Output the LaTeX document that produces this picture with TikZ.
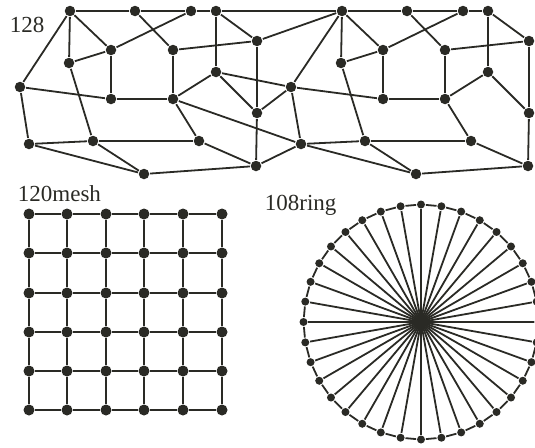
\documentclass[tikz,border=0pt]{standalone}
\usepackage{fontspec}
\setmainfont{Liberation Serif}
\definecolor{ink}{RGB}{42,42,37}
\begin{document}
\begin{tikzpicture}[x=1pt, y=-1pt, line width=1.8pt, draw=ink,
  dot/.style={circle, fill=ink, inner sep=0pt, minimum size=10.5pt},
  meshdot/.style={circle, fill=ink, inner sep=0pt, minimum size=11pt},
  ringdot/.style={circle, fill=ink, inner sep=0pt, minimum size=8pt},
  tag/.style={anchor=base west, inner sep=0pt, text=ink, font=\fontsize{23}{27}\selectfont}]
  \clip (0,0) rectangle (535,447);
  \node[tag] (t128) at (9,32) {128};
  \node[tag] (tmesh) at (17,201) {120mesh};
  \node[tag] (tring) at (264,210) {108ring};
  % two copies of the same block, shifted by 272
  \foreach \s/\dx in {l/0, r/272} {
    \foreach \n/\x/\y in {1/70/11, 2/135/11, 3/191/11, 4/216/11, 5/111/50, 6/173/50,
      7/257/41, 8/69/63, 9/216/72, 10/111/99, 11/173/99, 12/257/113,
      13/93/141, 14/199/141, 15/144/174, 16/256/166}
      \node[dot] (\s\n) at (\x+\dx,\y) {};
    \foreach \a/\b in {1/2, 2/3, 3/4, 1/8, 1/5, 8/5, 5/10, 5/3, 2/6, 6/11, 10/11, 4/9,
      4/7, 6/7, 7/12, 9/11, 9/12, 8/13, 11/14, 13/14, 13/15, 14/16, 12/16, 15/16}
      \draw (\s\a) -- (\s\b);
  }
  \node[dot] (e1) at (20,87) {};
  \node[dot] (e2) at (29,144) {};
  \node[dot] (e3) at (291,87) {};
  \node[dot] (e4) at (301,144) {};
  \foreach \a/\b in {l1/e1, e1/l10, e1/e2, e2/l13, e2/l15, l4/r1, l7/r1, l9/e3, e3/l12,
    e3/r1, e3/e4, e3/r10, l11/e4, l16/e4, e4/r13, e4/r15}
    \draw (\a) -- (\b);
  % mesh
  \foreach \i/\x in {0/29, 1/67, 2/106, 3/144, 4/183, 5/222}
    \foreach \j/\y in {0/214, 1/253, 2/293, 3/332, 4/371, 5/410}
      \node[meshdot] (m\i\j) at (\x,\y) {};
  \foreach \i [evaluate=\i as \k using int(\i+1)] in {0,...,4}
    \foreach \j in {0,...,5} {
      \draw (m\i\j) -- (m\k\j);
      \draw (m\j\i) -- (m\j\k);
    }
  % ring
  \node[ringdot, minimum size=12pt] (hub) at (421,322) {};
  \foreach \a in {0,...,35}
    \node[ringdot] (q\a) at ([shift={(421,322)}]\a*10:117.5) {};
  \foreach \a [evaluate=\a as \b using {int(mod(\a+1,36))}] in {0,...,35} {
    \draw (q\a) -- (q\b);
    \draw (hub.center) -- (q\a);
  }
\end{tikzpicture}
\end{document}
